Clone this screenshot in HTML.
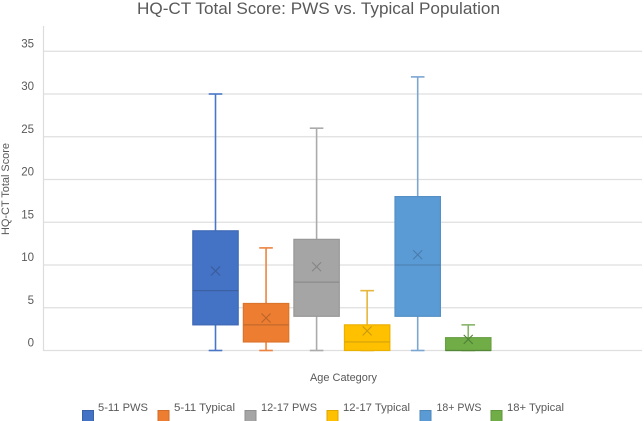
<!DOCTYPE html>
<html>
<head>
<meta charset="utf-8">
<style>
html,body{margin:0;padding:0;background:#fff;}
svg{display:block;font-family:"Liberation Sans",sans-serif;fill:#595959;}
</style>
</head>
<body>
<svg id="chart" width="644" height="421" viewBox="0 0 644 421" xmlns="http://www.w3.org/2000/svg">
  <text x="137" y="14" font-size="17" textLength="363" lengthAdjust="spacingAndGlyphs">HQ-CT Total Score: PWS vs. Typical Population</text>
  <line x1="43.5" y1="26" x2="43.5" y2="351" stroke="#dcdcdc" stroke-width="1.2"/>
  <g id="grid"></g>
  <g id="ticks"></g>
  <g id="boxes"></g>
  <text transform="translate(9,235) rotate(-90)" font-size="11" textLength="92" lengthAdjust="spacingAndGlyphs">HQ-CT Total Score</text>
  <text x="310" y="381" font-size="11" textLength="67" lengthAdjust="spacingAndGlyphs">Age Category</text>
  <g font-size="11">
    <g>
      <rect x="82.5" y="410.5" width="11" height="11" fill="#4472C4" stroke="#3A62A8"/>
      <text x="98" y="411" textLength="50" lengthAdjust="spacingAndGlyphs">5-11 PWS</text>
    </g>
    <g>
      <rect x="158" y="410.5" width="11" height="11" fill="#ED7D31" stroke="#CF6C2A"/>
      <text x="174" y="411" textLength="61" lengthAdjust="spacingAndGlyphs">5-11 Typical</text>
    </g>
    <g>
      <rect x="245" y="410.5" width="11" height="11" fill="#A5A5A5" stroke="#8F8F8F"/>
      <text x="261" y="411" textLength="56" lengthAdjust="spacingAndGlyphs">12-17 PWS</text>
    </g>
    <g>
      <rect x="327" y="410.5" width="11" height="11" fill="#FFC000" stroke="#DDA600"/>
      <text x="343" y="411" textLength="67" lengthAdjust="spacingAndGlyphs">12-17 Typical</text>
    </g>
    <g>
      <rect x="420" y="410.5" width="11" height="11" fill="#5B9BD5" stroke="#4F86B8"/>
      <text x="436.5" y="411" textLength="45" lengthAdjust="spacingAndGlyphs">18+ PWS</text>
    </g>
    <g>
      <rect x="491" y="410.5" width="11" height="11" fill="#70AD47" stroke="#61963D"/>
      <text x="507" y="411" textLength="57" lengthAdjust="spacingAndGlyphs">18+ Typical</text>
    </g>
  </g>
</svg>
<script>
const categories = ["5-11 PWS", "5-11 Typical", "12-17 PWS", "12-17 Typical", "18+ PWS", "18+ Typical"];
const minValues = [0, 0, 0, 0, 0, 0];
const q1Values = [3, 1, 4, 0, 4, 0];
const medianValues = [7, 3, 8, 1, 10, 0];
const q3Values = [14, 5.5, 13, 3, 18, 1.5];
const maxValues = [30, 12, 26, 7, 32, 3];
const meanValues = [9.3, 3.8, 9.8, 2.3, 11.2, 1.3];
const tickLabels = [0, 5, 10, 15, 20, 25, 30, 35];
const seriesColors = ["#4472C4", "#ED7D31", "#A5A5A5", "#FFC000", "#5B9BD5", "#70AD47"];
const seriesEdges = ["#3F69B5", "#DB742D", "#989898", "#EBB100", "#5490C5", "#68A042"];
const whiskerColors = ["#4A76C6", "#EC8440", "#ABABAB", "#E6B73A", "#7CA6D2", "#86B468"];
const meanMarks = ["#3A5C9C", "#B9652B", "#858585", "#C89A10", "#4A7CAB", "#4F7F35"];

const SVG_NS = "http://www.w3.org/2000/svg";
function yScale(v) { return 350.5 - v * 8.55; }
function xScale(i) { return 215.5 + i * 50.55; }
function make(tag, attrs, parent) {
  const el = document.createElementNS(SVG_NS, tag);
  for (const k in attrs) el.setAttribute(k, attrs[k]);
  parent.appendChild(el);
  return el;
}
const grid = document.getElementById("grid");
const ticks = document.getElementById("ticks");
const boxes = document.getElementById("boxes");

tickLabels.forEach(function (t) {
  const line = make("line", { x1: 43.5, x2: 642, y1: yScale(t), y2: yScale(t), stroke: "#dfdfdf", "stroke-width": 1.3 }, grid);
  
  
  const label = make("text", { x: 34, y: yScale(t) - 4, "text-anchor": "end", "font-size": 11.5 }, ticks);
  
  
  label.textContent = t;
});

categories.forEach(function (name, i) {
  const cx = xScale(i);
  const halfBox = 22.7;
  const halfCap = 6.8;
  const color = whiskerColors[i];
  const edge = seriesEdges[i];
  const g = make("g", {}, boxes);
  
  

  const upper = make("line", { x1: cx, x2: cx, y1: yScale(maxValues[i]), y2: yScale(q3Values[i]), stroke: color, "stroke-width": 1.6 }, g);
  
  
  const upperCap = make("line", { x1: cx - halfCap, x2: cx + halfCap, y1: yScale(maxValues[i]), y2: yScale(maxValues[i]), stroke: color, "stroke-width": 1.6 }, g);
  
  
  const lower = make("line", { x1: cx, x2: cx, y1: yScale(q1Values[i]), y2: yScale(minValues[i]), stroke: color, "stroke-width": 1.6 }, g);
  
  
  const lowerCap = make("line", { x1: cx - halfCap, x2: cx + halfCap, y1: yScale(minValues[i]), y2: yScale(minValues[i]), stroke: color, "stroke-width": 1.6 }, g);
  
  

  const box = make("rect", { x: cx - halfBox, width: halfBox * 2, y: yScale(q3Values[i]), height: yScale(q1Values[i]) - yScale(q3Values[i]), fill: seriesColors[i], stroke: edge, "stroke-width": 1.2 }, g);
  
  

  const median = make("line", { x1: cx - halfBox, x2: cx + halfBox, y1: yScale(medianValues[i]), y2: yScale(medianValues[i]), stroke: meanMarks[i], "stroke-width": 1.2, "stroke-opacity": 0.8 }, g);
  
  

  const my = yScale(meanValues[i]);
  const r = 4.5;
  const mean = make("path", { d: "M" + (cx - r) + " " + (my - r) + "L" + (cx + r) + " " + (my + r) + "M" + (cx - r) + " " + (my + r) + "L" + (cx + r) + " " + (my - r), stroke: meanMarks[i], "stroke-width": 1.1, fill: "none" }, g);
  
  
});
</script>
</body>
</html>
